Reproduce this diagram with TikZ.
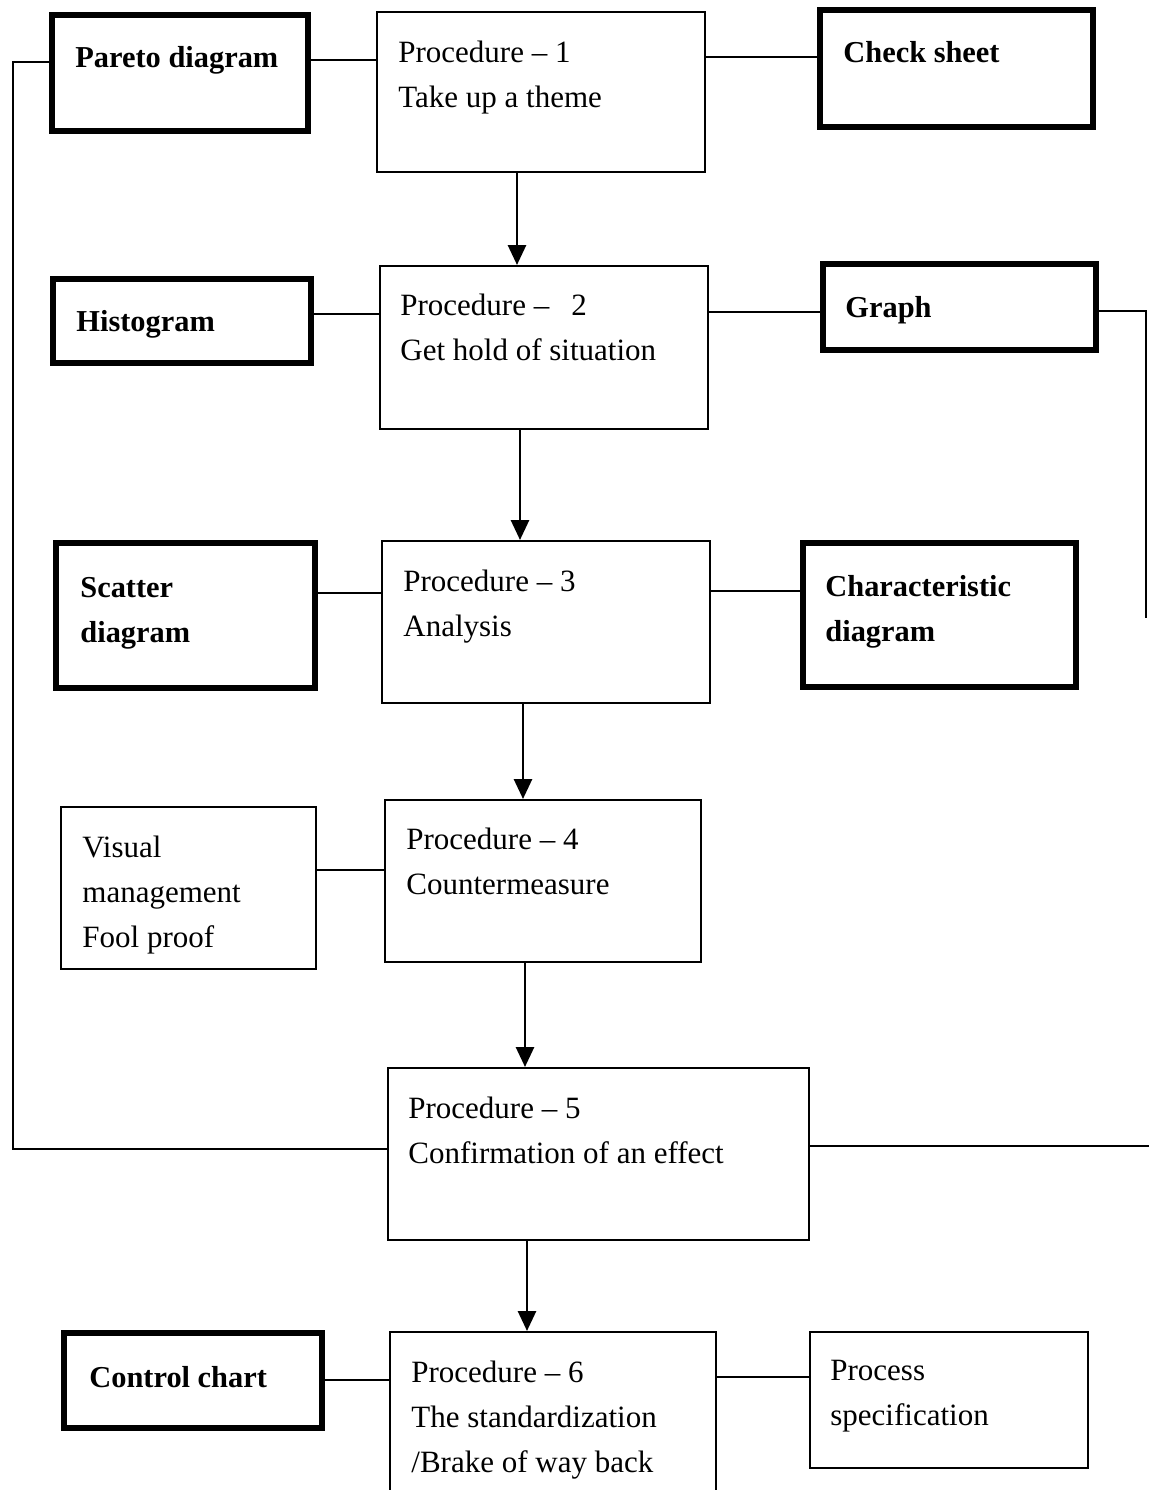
\documentclass[tikz,border=0pt]{standalone}
\usepackage{fontspec}
\setmainfont{Liberation Serif}
\usetikzlibrary{arrows.meta}
\newcommand\mylines[1]{\begin{tabular}[t]{@{}l@{}}#1\end{tabular}}
\newcommand\mkbox[6]{\node[#2, minimum width={(#5-#3)*0.5pt}, minimum height={(#6-#4)*0.5pt}] (#1) at ({(#3+#5)/2},{(#4+#6)/2}) {};}
\begin{document}
\begin{tikzpicture}[x=0.5pt,y=-0.5pt,
  tbox/.style={draw, line width=1pt, inner sep=0pt},
  kbox/.style={draw, line width=2.6pt, inner sep=0pt},
  conn/.style={line width=0.9pt},
  arr/.style={line width=1.4pt, -{Triangle[length=10pt,width=9pt]}},
  lbl/.style={anchor=base west, inner sep=0pt, font=\fontsize{15.5}{22.5}\selectfont},
  blbl/.style={anchor=base west, inner sep=0pt, font=\fontsize{15.2}{22.5}\selectfont\bfseries}]
\useasboundingbox (0,0) rectangle (1149,1490);
\clip (0,0) rectangle (1149,1490);
\fill[white] (0,0) rectangle (1149,1490);

% boxes
\mkbox{pareto}{kbox}{52}{15}{308}{131}
\mkbox{p1}{tbox}{377}{12}{705}{172}
\mkbox{check}{kbox}{820}{10}{1093}{127}
\mkbox{hist}{kbox}{53}{279}{311}{363}
\mkbox{p2}{tbox}{380}{266}{708}{429}
\mkbox{graph}{kbox}{823}{264}{1096}{350}
\mkbox{scatter}{kbox}{56}{543}{315}{688}
\mkbox{p3}{tbox}{382}{541}{710}{703}
\mkbox{char}{kbox}{803}{543}{1076}{687}
\mkbox{visual}{tbox}{61}{807}{316}{969}
\mkbox{p4}{tbox}{385}{800}{701}{962}
\mkbox{p5}{tbox}{388}{1068}{809}{1240}
\mkbox{control}{kbox}{64}{1333}{322}{1428}
\mkbox{p6}{tbox}{390}{1332}{716}{1510}
\mkbox{spec}{tbox}{810}{1332}{1088}{1468}

% texts
\node[blbl] (paretot) at (75,67) {Pareto diagram};
\node[lbl] (p1t) at (398,62) {\mylines{Procedure – 1\\Take up a theme}};
\node[blbl] (checkt) at (843,62) {Check sheet};
\node[blbl] (histt) at (76,331) {Histogram};
\node[lbl] (p2t) at (400,315) {\mylines{Procedure –\hspace{11pt}2\\Get hold of situation}};
\node[blbl] (grapht) at (845,317) {Graph};
\node[blbl] (scattert) at (80,597) {\mylines{Scatter\\diagram}};
\node[lbl] (p3t) at (403,591) {\mylines{Procedure – 3\\Analysis}};
\node[blbl] (chart) at (825,596) {\mylines{Characteristic\\diagram}};
\node[lbl] (visualt) at (82,857) {\mylines{Visual\\management\\Fool proof}};
\node[lbl] (p4t) at (406,849) {\mylines{Procedure – 4\\Countermeasure}};
\node[lbl] (p5t) at (408,1118) {\mylines{Procedure – 5\\Confirmation of an effect}};
\node[blbl] (controlt) at (89,1387) {Control chart};
\node[lbl] (p6t) at (411,1382) {\mylines{Procedure – 6\\The standardization\\/Brake of way back}};
\node[lbl] (spect) at (830,1380) {\mylines{Process\\specification}};

% connectors
\draw[conn] (pareto.west |- 0,62) -- (13,62) -- (13,1149) -- (p5.west |- 0,1149);
\draw[conn] (pareto.east |- 0,60) -- (p1.west |- 0,60);
\draw[conn] (p1.east |- 0,57) -- (check.west |- 0,57);
\draw[conn] (hist.east |- 0,314) -- (p2.west |- 0,314);
\draw[conn] (p2.east |- 0,312) -- (graph.west |- 0,312);
\draw[conn] (graph.east |- 0,311) -- (1146,311) -- (1146,618);
\draw[conn] (scatter.east |- 0,593) -- (p3.west |- 0,593);
\draw[conn] (p3.east |- 0,591) -- (char.west |- 0,591);
\draw[conn] (visual.east |- 0,870) -- (p4.west |- 0,870);
\draw[conn] (p5.east |- 0,1146) -- (1150,1146);
\draw[conn] (control.east |- 0,1380) -- (p6.west |- 0,1380);
\draw[conn] (p6.east |- 0,1377) -- (spec.west |- 0,1377);

% arrows
\draw[arr] (p1.south -| 517,0) -- (p2.north -| 517,0);
\draw[arr] (p2.south -| 520,0) -- (p3.north -| 520,0);
\draw[arr] (p3.south -| 523,0) -- (p4.north -| 523,0);
\draw[arr] (p4.south -| 525,0) -- (p5.north -| 525,0);
\draw[arr] (p5.south -| 527,0) -- (p6.north -| 527,0);
\end{tikzpicture}
\end{document}
